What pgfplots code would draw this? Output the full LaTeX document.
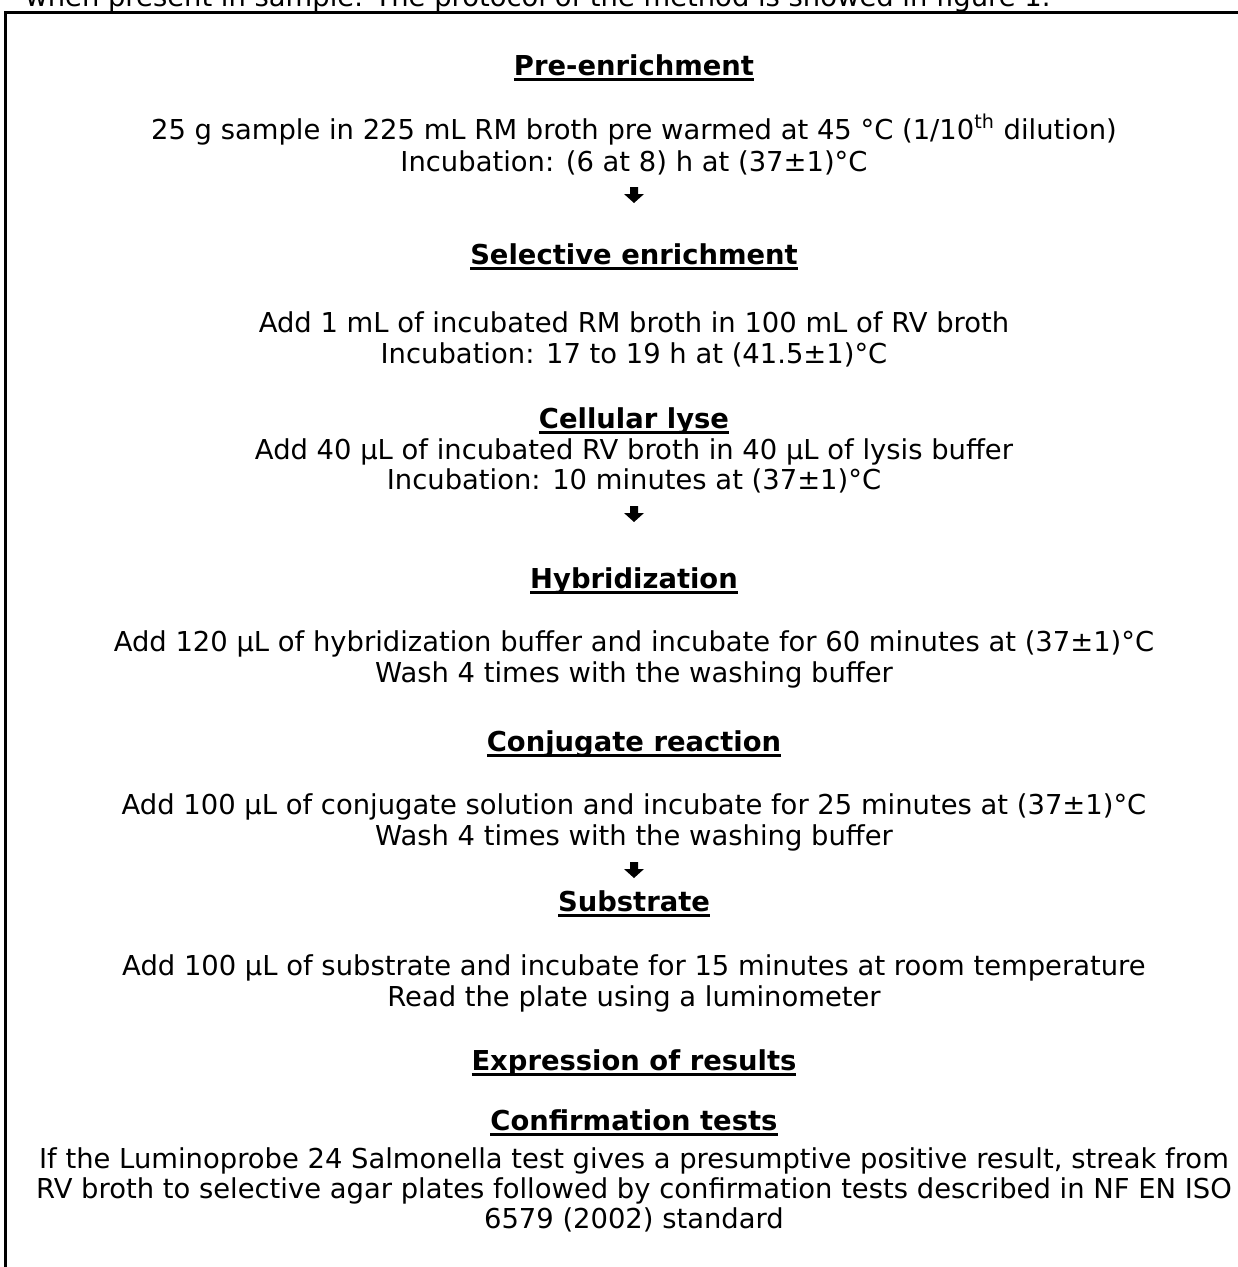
\documentclass[border=0pt]{standalone}
\usepackage{pgfplots}
\pgfplotsset{compat=1.18}
\usepackage{fontspec}
\setmainfont{DejaVu Sans}

% underline drawn just below the baseline, as in the source
\newcommand\ul[1]{\setbox0\hbox{#1}\rlap{\rule[-2.8bp]{\wd0}{1.4bp}}\box0}
\tikzset{txt/.style={font=\fontsize{13.7bp}{15bp}\selectfont, anchor=base, inner sep=0pt}}

\begin{document}
\begin{tikzpicture}
\begin{axis}[
    width=619bp, height=633.5bp, scale only axis,
    xmin=0, xmax=1238, ymin=0, ymax=1267, y dir=reverse,
    axis lines=none, ticks=none, clip=false,
]
% frame (top and left sides only, the rest is cut off)
\draw[line width=1.5bp] (axis cs:5,1300) -- (axis cs:5,12) -- (axis cs:1300,12);

% sentence cut off at the top
\node[txt, anchor=base west] at (axis cs:25,6) {when present in sample. The protocol of the method is showed in figure 1.};

\node[txt] at (axis cs:634,75)  {\bfseries\ul{Pre-enrichment}};
\node[txt] at (axis cs:634,139) {25 g sample in 225 mL RM broth pre warmed at 45 °C (1/10\textsuperscript{th} dilution)};
\node[txt] at (axis cs:634,171) {Incubation: (6 at 8) h at (37±1)°C};
\fill (axis cs:630,187) -- (axis cs:638,187) -- (axis cs:638,194) -- (axis cs:644,194) -- (axis cs:634,203)
      -- (axis cs:624,194) -- (axis cs:630,194) -- cycle;

\node[txt] at (axis cs:634,264) {\bfseries\ul{Selective enrichment}};
\node[txt] at (axis cs:634,332) {Add 1 mL of incubated RM broth in 100 mL of RV broth};
\node[txt] at (axis cs:634,363) {Incubation: 17 to 19 h at (41.5±1)°C};

\node[txt] at (axis cs:634,428) {\bfseries\ul{Cellular lyse}};
\node[txt] at (axis cs:634,459) {Add 40 µL of incubated RV broth in 40 µL of lysis buffer};
\node[txt] at (axis cs:634,489) {Incubation: 10 minutes at (37±1)°C};
\fill (axis cs:630,506) -- (axis cs:638,506) -- (axis cs:638,513) -- (axis cs:644,513) -- (axis cs:634,522)
      -- (axis cs:624,513) -- (axis cs:630,513) -- cycle;

\node[txt] at (axis cs:634,588) {\bfseries\ul{Hybridization}};
\node[txt] at (axis cs:634,651) {Add 120 µL of hybridization buffer and incubate for 60 minutes at (37±1)°C};
\node[txt] at (axis cs:634,682) {Wash 4 times with the washing buffer};

\node[txt] at (axis cs:634,751) {\bfseries\ul{Conjugate reaction}};
\node[txt] at (axis cs:634,814) {Add 100 µL of conjugate solution and incubate for 25 minutes at (37±1)°C};
\node[txt] at (axis cs:634,845) {Wash 4 times with the washing buffer};
\fill (axis cs:630,862) -- (axis cs:638,862) -- (axis cs:638,869) -- (axis cs:644,869) -- (axis cs:634,878)
      -- (axis cs:624,869) -- (axis cs:630,869) -- cycle;

\node[txt] at (axis cs:634,911) {\bfseries\ul{Substrate}};
\node[txt] at (axis cs:634,975) {Add 100 µL of substrate and incubate for 15 minutes at room temperature};
\node[txt] at (axis cs:634,1006) {Read the plate using a luminometer};

\node[txt] at (axis cs:634,1070) {\bfseries\ul{Expression of results}};

\node[txt] at (axis cs:634,1130) {\bfseries\ul{Confirmation tests}};
\node[txt] at (axis cs:634,1168) {If the Luminoprobe 24 Salmonella test gives a presumptive positive result, streak from};
\node[txt] at (axis cs:634,1198) {RV broth to selective agar plates followed by confirmation tests described in NF EN ISO};
\node[txt] at (axis cs:634,1228) {6579 (2002) standard};
\end{axis}
\pgfresetboundingbox
\path[use as bounding box] (0,0) rectangle (619bp,633.5bp);
\end{tikzpicture}
\end{document}
